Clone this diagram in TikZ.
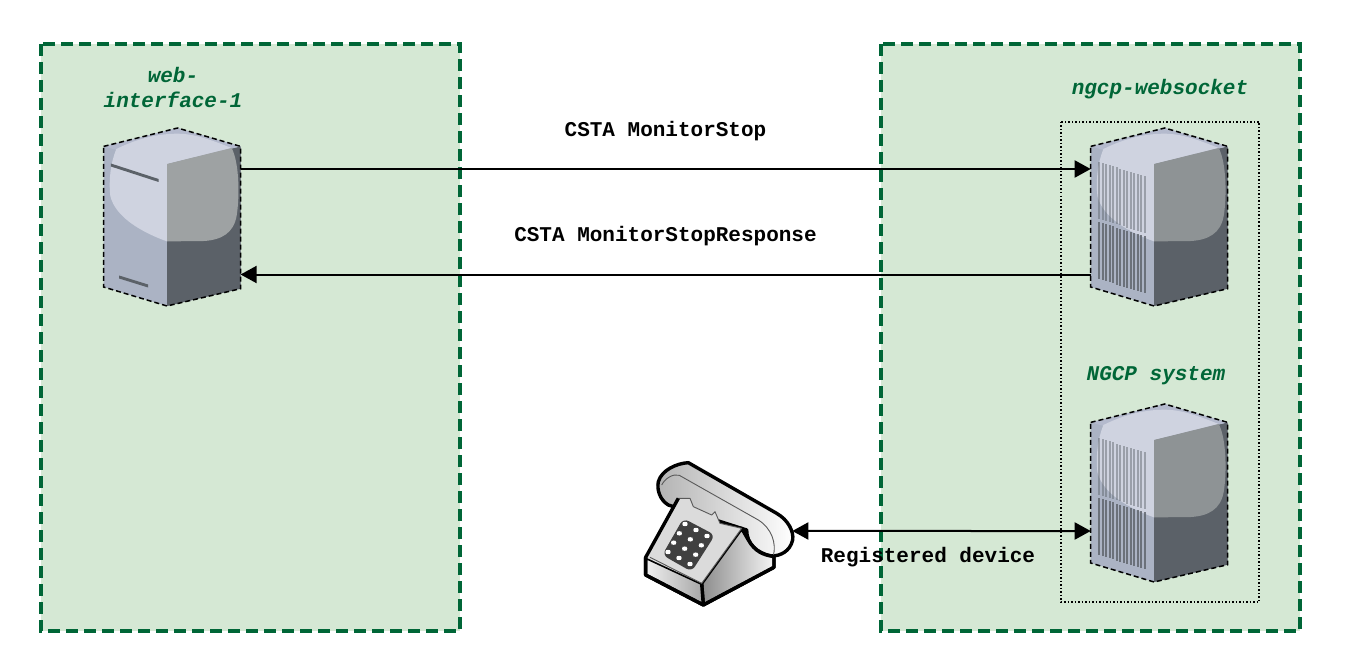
\documentclass[tikz,border=0pt]{standalone}
\usepackage{fontspec}
\setmonofont{Liberation Mono}
\usetikzlibrary{arrows.meta}
\definecolor{panelgreen}{HTML}{D5E8D4}
\definecolor{framegreen}{HTML}{006637}
\definecolor{srvbase}{HTML}{ABB3C4}
\definecolor{srvdark}{HTML}{5B6168}
\definecolor{srvtop}{HTML}{B4BACD}
\definecolor{srvlight}{HTML}{CFD3E0}
\definecolor{srvgrey}{HTML}{9EA2A3}
\definecolor{srvgreyb}{HTML}{8E9395}
\newcommand{\serverbody}[1]{%
  \fill[srvbase] (0,18.4) -- (74,0) -- (137,18.4) -- (137,160.7) -- (63.4,178) -- (0,159) -- cycle;
  \fill[srvdark] (63.4,36) -- (137,18.4) -- (137,160.7) -- (63.4,178) -- cycle;
  \fill[srvtop] (0,18.4) -- (74,0) -- (137,18.4) -- (63.4,36) -- cycle;
  \fill[srvlight] (12.7,21) .. controls (35,10) and (55,5.7) .. (74,5.7) .. controls (92,5.7) and (110,13) .. (128,20) -- (63.4,36) -- (63.4,113.4) .. controls (40,105) and (12,90) .. (6.7,68) .. controls (5,52) and (7,35) .. (12.7,21) -- cycle;
  \fill[#1] (63.4,36) -- (128,20) .. controls (136,35) and (136,70) .. (133,88) .. controls (130,105) and (118,112) .. (100,113) -- (63.4,113.4) -- cycle;
  \draw[outline] (0,18.4) -- (74,0) -- (137,18.4) -- (137,160.7) -- (63.4,178) -- (0,159) -- cycle;
}

\begin{document}
\begin{tikzpicture}[x=1pt,y=-1pt,>={Triangle[length=16pt,width=17pt]},
  panel/.style={draw=framegreen,fill=panelgreen,line width=4pt,dash pattern=on 12pt off 6pt},
  outline/.style={draw=black,line width=1.5pt,dash pattern=on 5pt off 3pt},
  name label/.style={font=\ttfamily\itshape\bfseries\fontsize{21}{25}\selectfont,text=framegreen,align=center,inner sep=0pt},
  msg label/.style={font=\ttfamily\bfseries\fontsize{21}{25}\selectfont,inner sep=0pt},
  link/.style={line width=2pt},
  phone line/.style={draw=black,line width=3.4pt,line join=round},
  phone thin/.style={draw=black!65,line width=0.9pt,line join=round},
  web server/.pic={
    \serverbody{srvgrey}
    \fill[srvdark] (7.3,35.5) -- (55,51) -- (55,54) -- (7.3,38.5) -- cycle; % upper slot
    \fill[srvdark] (15.5,147.5) -- (44.5,156.5) -- (44.5,159.5) -- (15.5,150.5) -- cycle; % lower slot
    \coordinate (-out) at (137,41);
    \coordinate (-in) at (137,146.5);
  },
  vent server/.pic={
    \serverbody{srvgreyb}
    \foreach \i in {0,...,13} {
      \fill[srvdark,opacity=0.45] ({7.7+3.5*\i},{34+1.1*\i}) rectangle +(1.7,56.7);
      \fill[srvdark,opacity=0.8] ({7.7+3.5*\i},{94+1.1*\i}) rectangle +(1.7,57);
    }
    \coordinate (-in) at (0,41);
    \coordinate (-out) at (0,146.5);
    \coordinate (-phone) at (0,127);
  }]
\useasboundingbox (0,0) rectangle (1350,666);

\draw[panel] (41,44) rectangle (460,631);
\draw[panel] (881,44) rectangle (1300,631);
\draw[black,line width=1.5pt,dotted] (1061,122) rectangle (1259,602);

\pic (web1) at (103.6,128) {web server};
\pic (ws1) at (1090.7,128) {vent server};
\pic (ws2) at (1090.7,404) {vent server};

\node[name label] (webname) at (173,87.5) {web-\\interface-1};
\node[name label] (wsname) at (1160,89) {ngcp-websocket};
\node[name label] (ngcpname) at (1156,376) {NGCP system};
\node[msg label] (stoplabel) at (665.5,131) {CSTA MonitorStop};
\node[msg label] (resplabel) at (665.5,236) {CSTA MonitorStopResponse};
\node[msg label] (reglabel) at (928,557) {Registered device};

% phone, traced in a 3x grid
\begin{scope}[shift={(630,450)},x=0.3333pt,y=-0.3333pt]
\coordinate (phone) at (487,243);
\shadedraw[phone line,left color=black!30,right color=white] (115,165) .. controls (90,150) and (80,120) .. (85,95) .. controls (95,60) and (140,40) .. (175,38) -- (440,190) .. controls (475,210) and (492,245) .. (488,270) .. controls (480,305) and (450,318) .. (425,318) .. controls (380,310) and (350,280) .. (350,240) -- cycle; % handset
\draw[phone thin] (95,105) .. controls (105,85) and (130,70) .. (148,76) -- (385,210) .. controls (425,235) and (440,280) .. (430,318);
\shadedraw[phone line,left color=black!45,right color=black!4] (215,400) -- (335,235) -- (355,270) .. controls (375,305) and (400,315) .. (432,320) -- (432,352) -- (220,465) -- cycle; % right side
\shadedraw[phone line,left color=black!6,right color=black!35] (47,322) -- (215,400) -- (220,465) -- (47,375) -- cycle; % front
\fill[black!14] (47,322) -- (145,145) -- (180,145) -- (190,170) -- (245,195) -- (255,185) -- (270,220) -- (335,235) -- (215,400) -- cycle; % dial face
\draw[phone thin] (145,145) -- (180,145) -- (190,170) -- (245,195) -- (255,185) -- (270,220) -- (335,235) -- (215,400) -- (60,322);
\draw[phone line] (47,322) -- (145,145);
\draw[phone line] (47,322) -- (47,375) -- (220,465) -- (432,352) -- (432,320);
\fill[black!75,rounded corners=6pt] (160,205) -- (255,255) -- (185,365) -- (97,315) -- cycle;
\foreach \i in {0,1,2} {
  \foreach \j in {0,1,2,3} {
    \fill[white,rounded corners=3pt] ({165+33*\i-17*\j-12},{222+18*\i+28*\j}) -- ++(12,-10) -- ++(12,10) -- ++(-12,10) -- cycle;
  }
}
\end{scope}

\path[link,->] (web1-out) edge (ws1-in)
(ws1-out) edge (web1-in);
\path[link,<->] (phone) edge (ws2-phone);
\end{tikzpicture}
\end{document}
